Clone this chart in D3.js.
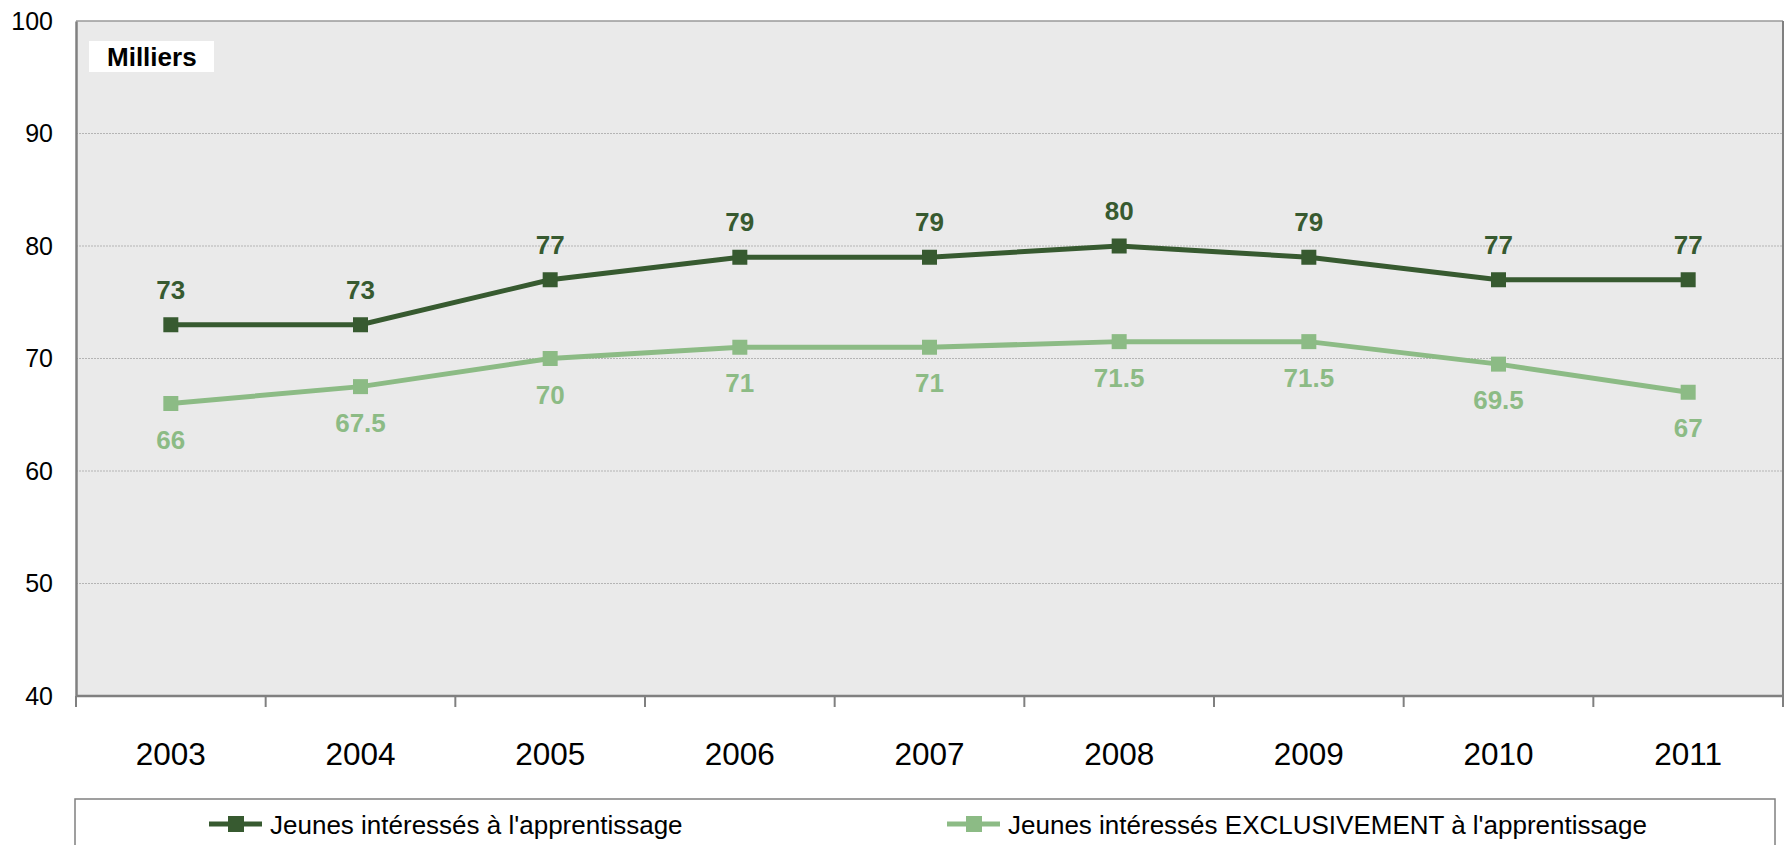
<!DOCTYPE html>
<html><head><meta charset="utf-8">
<script src="https://cdn.jsdelivr.net/npm/d3@7"></script>
<style>body{margin:0;background:#fff;}svg{display:block;font-family:"Liberation Sans",Arial,sans-serif;}</style>
</head><body><svg id="c" width="1788" height="845"></svg>
<script>
const years = ["2003","2004","2005","2006","2007","2008","2009","2010","2011"];
const seriesAll = [73,73,77,79,79,80,79,77,77];
const seriesExcl = [66,67.5,70,71,71,71.5,71.5,69.5,67];
const yTicks = [40,50,60,70,80,90,100];
const seriesNames = ["Jeunes intéressés à l'apprentissage","Jeunes intéressés EXCLUSIVEMENT à l'apprentissage"];
const colors = ["#375a30","#8cbb85"];
const unitLabel = "Milliers";

const svg = d3.select("#c");
const L=76, R=1783, T=21, B=696;
const x = d3.scaleBand().domain(years).range([L,R]);
const y = d3.scaleLinear().domain([40,100]).range([B,T]);

svg.append("rect").attr("x",L).attr("y",T).attr("width",R-L).attr("height",B-T).attr("fill","#eaeaea");
// gridlines
svg.append("g").selectAll("line").data(yTicks.filter(d=>d>40&&d<100)).join("line")
  .attr("x1",L).attr("x2",R).attr("y1",d=>y(d)).attr("y2",d=>y(d))
  .attr("stroke","#b4b4b4").attr("stroke-width",1.2).attr("stroke-dasharray","2,1");
// border
svg.append("line").attr("x1",L).attr("x2",R).attr("y1",T).attr("y2",T).attr("stroke","#9a9a9a").attr("stroke-width",1.5);
svg.append("line").attr("x1",R).attr("x2",R).attr("y1",T).attr("y2",B).attr("stroke","#808080").attr("stroke-width",2);

// y axis
const ya = svg.append("g").attr("transform",`translate(${L},0)`)
  .call(d3.axisLeft(y).tickValues(yTicks).tickSize(0).tickPadding(23));
ya.select(".domain").attr("stroke","#808080").attr("stroke-width",2.5);
ya.selectAll("text").attr("font-size",25).attr("fill","#000").attr("font-family","Liberation Sans, Arial, sans-serif");

// x axis
const xa = svg.append("g").attr("transform",`translate(0,${B})`)
  .call(d3.axisBottom(x).tickSize(0).tickPadding(47));
xa.select(".domain").attr("stroke","#808080").attr("stroke-width",2.5).attr("d",`M${L},0H${R}`);
xa.selectAll("text").attr("font-size",31.5).attr("fill","#000").attr("font-family","Liberation Sans, Arial, sans-serif");
svg.append("g").selectAll("line").data(years.concat(["end"])).join("line")
  .attr("x1",(d,i)=>L+i*x.bandwidth()).attr("x2",(d,i)=>L+i*x.bandwidth())
  .attr("y1",B).attr("y2",B+11).attr("stroke","#808080").attr("stroke-width",2);

// Milliers box
svg.append("rect").attr("x",89).attr("y",41).attr("width",125).attr("height",31).attr("fill","#fff");
svg.append("text").attr("x",107).attr("y",66).attr("font-size",26).attr("font-weight","bold").text(unitLabel);

const cx = d=>x(d)+x.bandwidth()/2;
const line = d3.line().x((d,i)=>cx(years[i])).y(d=>y(d));
const data=[seriesAll,seriesExcl];
data.forEach((s,k)=>{
  const g = svg.append("g");
  g.append("path").datum(s).attr("d",line).attr("fill","none").attr("stroke",colors[k]).attr("stroke-width",5);
  g.selectAll("rect").data(s).join("rect")
    .attr("x",(d,i)=>cx(years[i])-7.5).attr("y",d=>y(d)-7.5).attr("width",15).attr("height",15).attr("fill",colors[k]);
  g.selectAll("text").data(s).join("text")
    .attr("x",(d,i)=>cx(years[i])).attr("y",d=>k===0? y(d)-35 : y(d)+36)
    .attr("dy","0.35em").attr("text-anchor","middle").attr("font-size",26).attr("font-weight","bold")
    .attr("fill",colors[k]).text(d=>d);
});

// legend
svg.append("rect").attr("x",75).attr("y",799).attr("width",1700).attr("height",60).attr("fill","#fff").attr("stroke","#808080").attr("stroke-width",1.5);
const legX=[209,947];
seriesNames.forEach((n,k)=>{
  const g=svg.append("g").attr("transform",`translate(${legX[k]},824)`);
  g.append("line").attr("x1",0).attr("x2",53).attr("y1",0).attr("y2",0).attr("stroke",colors[k]).attr("stroke-width",5);
  g.append("rect").attr("x",19).attr("y",-8).attr("width",16).attr("height",16).attr("fill",colors[k]);
  g.append("text").attr("x",61).attr("y",1).attr("dy","0.35em").attr("font-size",26).text(n);
});
</script></body></html>
